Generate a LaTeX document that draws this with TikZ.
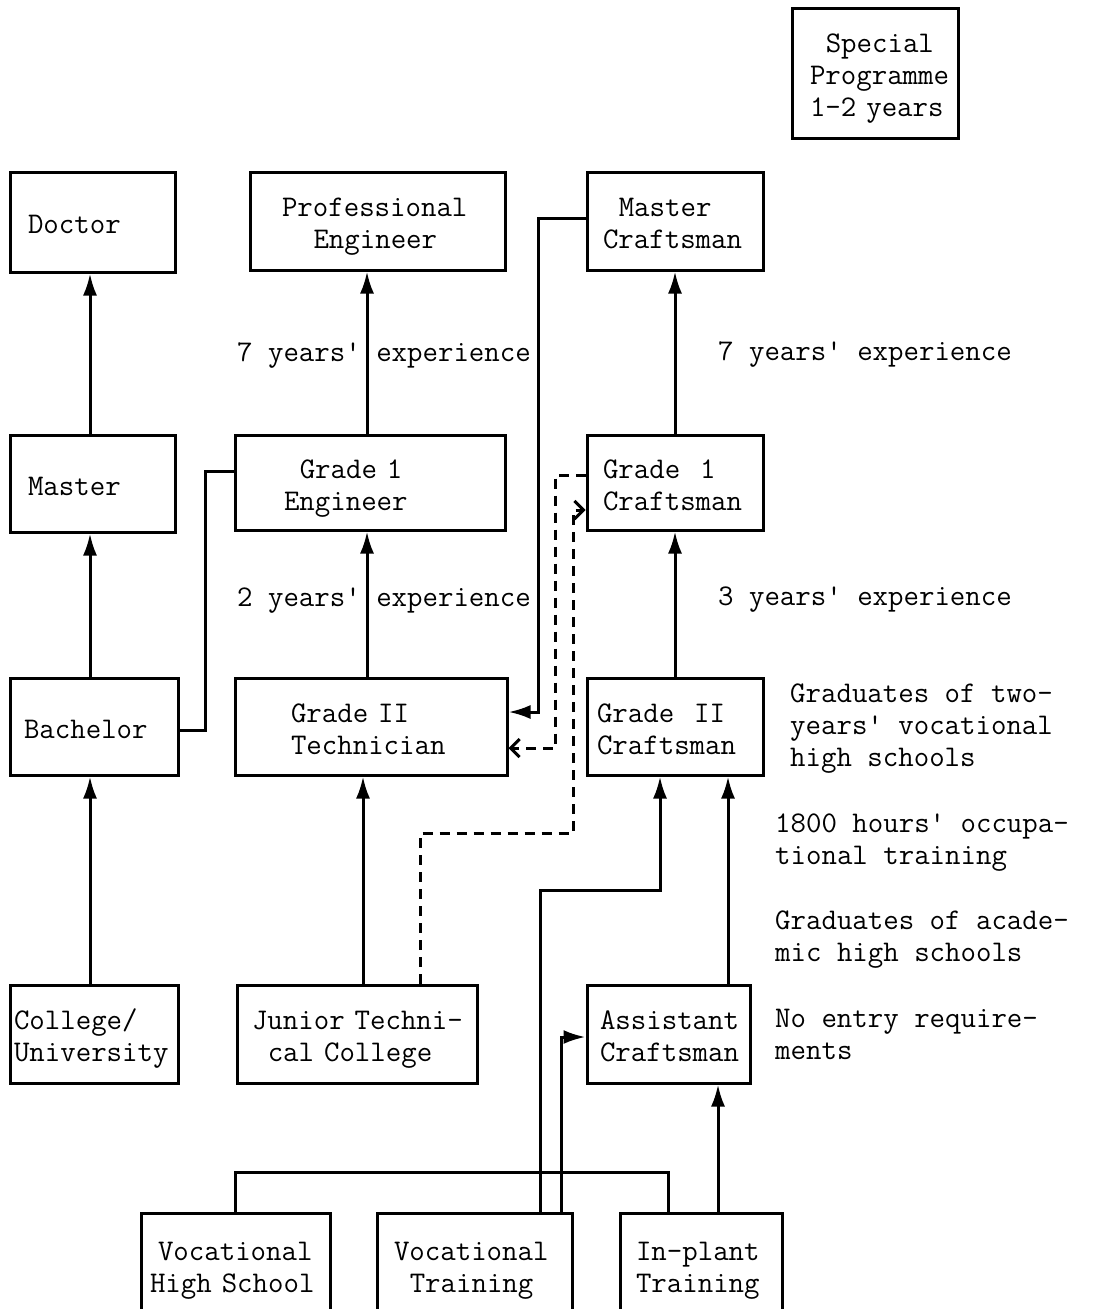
\documentclass[tikz,border=0pt]{standalone}
\usetikzlibrary{arrows.meta}
\newcommand{\tsp}{\hspace*{0.525em}}
\begin{document}
\begin{tikzpicture}[x=1pt,y=-1pt,
  tt/.style={font=\fontsize{30}{32}\selectfont\ttfamily,
    execute at begin node={\rule{0pt}{36pt}},
    execute at end node={\rule[-13pt]{0pt}{0pt}}},
  box/.style={tt, draw, line width=3pt, inner ysep=0pt, align=left},
  lab/.style={tt, inner sep=0pt, anchor=west, align=left},
  ln/.style={line width=3pt},
  arr/.style={ln, -{Latex[length=22pt,width=14pt]}},
  darr/.style={ln, dash pattern=on 10pt off 7pt, -{Straight Barb[length=9pt,width=18pt]}}]
\useasboundingbox[fill=white] (0,0) rectangle (1093,1309);

% left column
\node[box, minimum width=165, minimum height=100, inner xsep=18, text width=129] (doctor) at (92.5,222) {Doctor};
\node[box, minimum width=165, minimum height=97, inner xsep=18, text width=129] (master) at (92.5,483.5) {Master};
\node[box, minimum width=168, minimum height=97, inner xsep=14, text width=140] (bachelor) at (94,726.5) {Bachelor};
\node[box, minimum width=168, minimum height=98, inner xsep=4, text width=160] (college) at (94,1034) {College/\\University};

% middle column
\node[box, minimum width=255, minimum height=98, inner xsep=32, text width=191] (profeng) at (377.5,221) {Professional\\\tsp\tsp Engineer};
\node[box, minimum width=270, minimum height=95, inner xsep=49, text width=172] (gradeoneeng) at (370,482.5) {\tsp Grade~1\\Engineer};
\node[box, minimum width=272, minimum height=97, inner xsep=56, text width=160] (gradetwotech) at (371,726.5) {Grade~II\\Technician};
\node[box, minimum width=240, minimum height=98, inner xsep=15, text width=210] (jtc) at (357,1034) {Junior~Techni-\\\tsp cal~College};

% right column
\node[box, minimum width=166, minimum height=130, inner xsep=18, text width=130] (special) at (875,73) {\tsp Special\\Programme\\1-2~years};
\node[box, minimum width=176, minimum height=98, inner xsep=16, text width=144] (mastercraft) at (675,221) {\tsp Master\\Craftsman};
\node[box, minimum width=176, minimum height=95, inner xsep=16, text width=144] (gradeonecraft) at (675,482.5) {Grade~~1\\Craftsman};
\node[box, minimum width=176, minimum height=97, inner xsep=10, text width=156] (gradetwocraft) at (675,726.5) {Grade~~II\\Craftsman};
\node[box, minimum width=163, minimum height=98, inner xsep=13, text width=137] (assist) at (668.5,1034) {Assistant\\Craftsman};

% bottom row
\node[box, minimum width=189, minimum height=104, inner xsep=9, text width=171] (vhs) at (235.5,1265) {\hspace*{8pt}Vocational\\High~School};
\node[box, minimum width=195, minimum height=104, inner xsep=17, text width=161] (vt) at (474.5,1265) {Vocational\\\tsp Training};
\node[box, minimum width=162, minimum height=104, inner xsep=16, text width=130] (ipt) at (701,1265) {In-plant\\Training};

% labels
\node[lab] (l7a) at (237,350) {7 years' experience};
\node[lab] (l2a) at (237,595) {2 years' experience};
\node[lab] (l7b) at (718,349) {7 years' experience};
\node[lab] (l3b) at (718,594) {3 years' experience};
\node[lab] (lgrad2) at (790,732) {Graduates of two-\\years' vocational\\high schools};
\node[lab] (l1800) at (775,846) {1800 hours' occupa-\\tional training};
\node[lab] (lacad) at (775,943) {Graduates of acade-\\mic high schools};
\node[lab] (lnoentry) at (775,1041) {No entry require-\\ments};

% helper coordinates
\coordinate (xl) at (90,0);
\coordinate (xm) at (367,0);
\coordinate (j1) at (363,0);
\coordinate (m1) at (538,218);
\coordinate (m2) at (538,712);
\coordinate (b1) at (205,730);
\coordinate (b2) at (205,471);
\coordinate (d1) at (555,475);
\coordinate (d2) at (555,748);
\coordinate (e1) at (420,833);
\coordinate (e2) at (573,833);
\coordinate (e3) at (573,510);
\coordinate (v1) at (540,890);
\coordinate (v2) at (660,890);
\coordinate (w1) at (561,1037);
\coordinate (p1) at (718,0);
\coordinate (q1) at (728,0);
\coordinate (h1) at (235,1172);
\coordinate (h2) at (668,1172);

% left column arrows
\draw[arr] (college.north -| xl) -- (bachelor.south -| xl);
\draw[arr] (bachelor.north -| xl) -- (master.south -| xl);
\draw[arr] (master.north -| xl) -- (doctor.south -| xl);
\draw[ln] (bachelor.east |- b1) -- (b1) -- (b2) -- (gradeoneeng.west |- b2);

% middle column arrows
\draw[arr] (jtc.north -| j1) -- (gradetwotech.south -| j1);
\draw[arr] (gradetwotech.north -| xm) -- (gradeoneeng.south -| xm);
\draw[arr] (gradeoneeng.north -| xm) -- (profeng.south -| xm);

% right column arrows
\draw[arr] (gradetwocraft.north) -- (gradeonecraft.south);
\draw[arr] (gradeonecraft.north) -- (mastercraft.south);
\draw[arr] (mastercraft.west |- m1) -- (m1) -- (m2) -- (gradetwotech.east |- m2);

% dashed links
\draw[darr] (gradeonecraft.west |- d1) -- (d1) -- (d2) -- (gradetwotech.east |- d2);
\draw[darr] (jtc.north -| e1) -- (e1) -- (e2) -- (e3) -- (gradeonecraft.west |- e3);

% bottom links
\draw[arr] (vt.north -| v1) -- (v1) -- (v2) -- (gradetwocraft.south -| v2);
\draw[arr] (vt.north -| w1) -- (w1) -- (assist.west |- w1);
\draw[arr] (ipt.north -| p1) -- (assist.south -| p1);
\draw[arr] (assist.north -| q1) -- (gradetwocraft.south -| q1);
\draw[ln] (vhs.north -| h1) -- (h1) -- (h2) -- (ipt.north -| h2);
\end{tikzpicture}
\end{document}
